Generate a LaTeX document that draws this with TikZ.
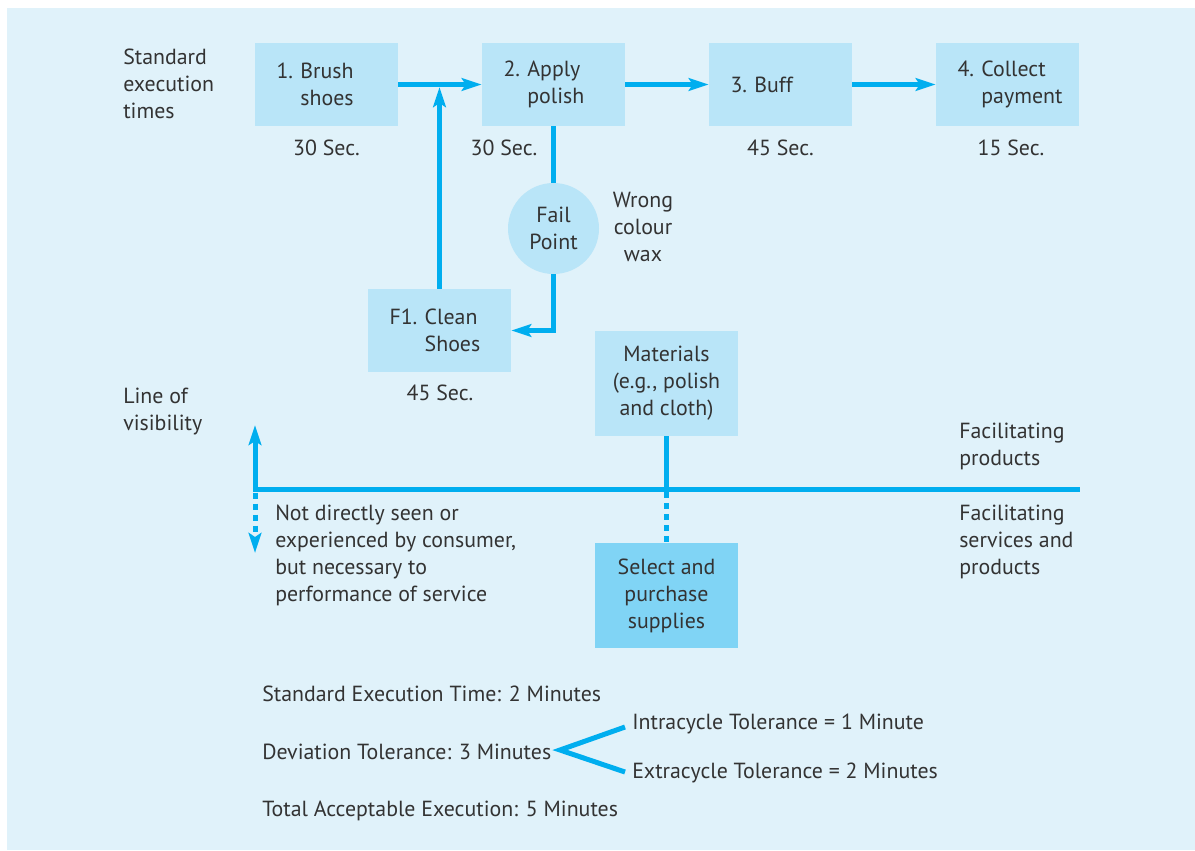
\documentclass[tikz,border=0pt]{standalone}
\usepackage{fontspec}
\setmainfont{PT Sans}
\usetikzlibrary{arrows.meta}
\definecolor{bgc}{HTML}{E0F2FA}
\definecolor{boxc}{HTML}{B9E5F8}
\definecolor{selc}{HTML}{80D4F5}
\definecolor{linec}{HTML}{00AEEF}
\definecolor{txtc}{HTML}{333333}
\begin{document}
\begin{tikzpicture}[x=0.75pt,y=-0.75pt,
  every node/.style={text=txtc,font=\fontsize{16.4}{20.25}\selectfont,inner sep=0pt},
  stepbox/.style={fill=boxc,minimum width=107.25pt,minimum height=62.25pt,text width=75pt,align=left},
  midbox/.style={fill=#1,minimum width=107.25pt,minimum height=78.75pt,align=center},
  conn/.style={draw=linec,line width=3.75pt},
  flow/.style={conn,-{Stealth[length=15pt,width=9.5pt,inset=3pt]}},
  dots/.style={dash pattern=on 4.5pt off 3.75pt},
  lbl/.style={align=left,anchor=west}]
\useasboundingbox (0,0) rectangle (1195,850);
\fill[bgc] (7,8) rectangle (1195,850);

% process steps
\node[stepbox] (b1) at (326.5,84.5) {1.~Brush\\\hphantom{1.~}shoes};
\node[stepbox] (b2) at (553.5,84.5) {2.~Apply\\\hphantom{2.~}polish};
\node[stepbox] (b3) at (780.5,84.5) {3.~Buff};
\node[stepbox] (b4) at (1007.5,84.5) {4.~Collect\\\hphantom{4.~}payment};
\node[stepbox] (f1) at (439.5,330.5) {F1.~Clean\\\hphantom{F1.~}Shoes};
\node[circle,fill=boxc,minimum size=68.25pt,align=center] (fail) at (553.5,228.5) {Fail\\Point};
\node[midbox=boxc] (mat) at (666.5,383.5) {Materials\\(e.g., polish\\and cloth)};
\node[midbox=selc] (sel) at (666.5,595.5) {Select and\\purchase\\supplies};

% execution times
\node (t1) at (326.5,148) {30 Sec.};
\node (t2) at (504,148) {30 Sec.};
\node (t3) at (780.5,148) {45 Sec.};
\node (t4) at (1011,148) {15 Sec.};
\node (t5) at (440,393) {45 Sec.};

% side labels
\node[lbl] (std) at (123,84) {Standard\\execution\\times};
\node[lbl] (lov) at (123,411) {Line of\\visibility};
\node[align=center] (wrong) at (643,227) {Wrong\\colour\\wax};
\node[lbl] (fp) at (959,446) {Facilitating\\products};
\node[lbl] (fsp) at (959,542) {Facilitating\\services and\\products};
\node[lbl] (nds) at (275,555) {Not directly seen or\\experienced by consumer,\\but necessary to\\performance of service};

% summary
\node[lbl] (s1) at (262,693.5) {Standard Execution Time: 2 Minutes};
\node[lbl] (s2) at (262,751.5) {Deviation Tolerance: 3 Minutes};
\node[lbl] (s3) at (262,810.5) {Total Acceptable Execution: 5 Minutes};
\node[lbl] (s4) at (632,723.5) {Intracycle Tolerance = 1 Minute};
\node[lbl] (s5) at (632,772.5) {Extracycle Tolerance = 2 Minutes};

% flow connectors
\draw[flow] (b1.east) -- (b2.west);
\draw[flow] (b2.east) -- (b3.west);
\draw[flow] (b3.east) -- (b4.west);
\draw[flow,shorten >=1.9pt] (f1.north) -- (f1.north |- b1.east);
\draw[conn] (b2.south) -- (fail.north);
\draw[flow] (fail.south) |- (f1.east);

% line of visibility
\coordinate (lvL) at (255,489.5);
\coordinate (lvR) at (1080,489.5);
\coordinate (up) at (255,425);
\coordinate (dn) at (255,553);
\coordinate (dnS) at (255,492.5);
\draw[conn] (lvL) -- (lvR);
\draw[flow] ([yshift=-1.875pt]lvL) -- (up);
\draw[flow,dots] (dnS) -- (dn);
\draw[conn] (mat.south) -- (mat.south |- lvL);
\coordinate (mj) at ([yshift=-2.2pt]mat.south |- lvL);
\draw[conn,dots] (mj) -- (sel.north);

% tolerance split
\coordinate (cv) at (560,750);
\coordinate (cvT) at (625,727);
\coordinate (cvB) at (625,772);
\draw[conn,line join=miter] (cvT) -- (cv) -- (cvB);
\end{tikzpicture}
\end{document}
